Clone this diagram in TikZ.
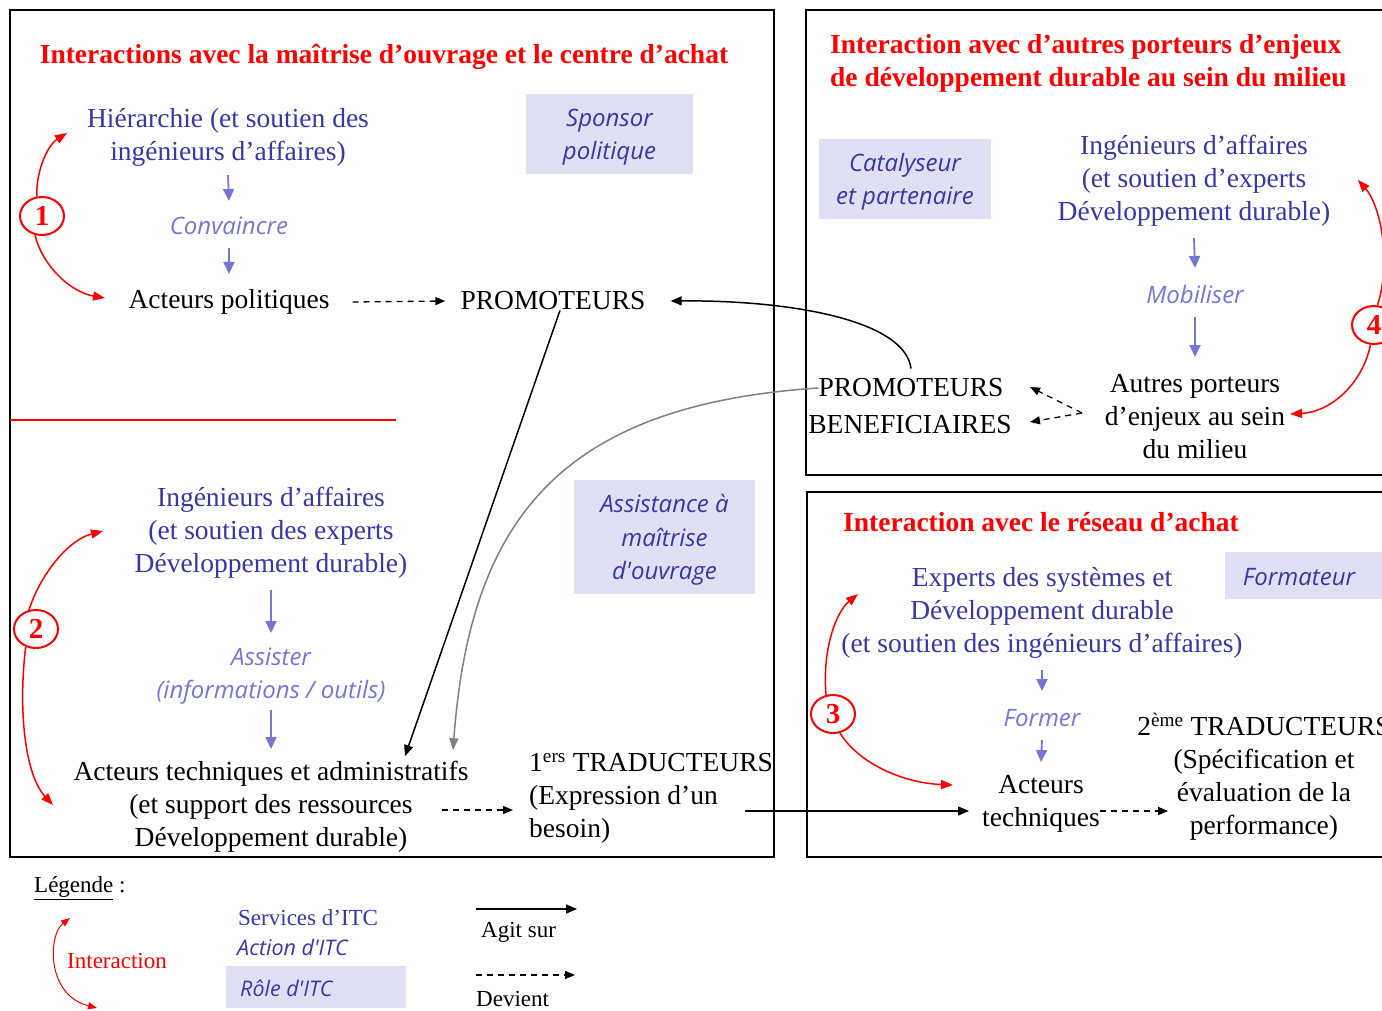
\documentclass[tikz,border=0pt]{standalone}
\usepackage{fontspec}
\setmainfont{Liberation Serif}
\newfontfamily\rolefont{Open Sans}
\usetikzlibrary{arrows.meta,shapes.geometric}
\definecolor{dblue}{RGB}{55,55,165}
\definecolor{lav}{RGB}{118,118,212}
\definecolor{rolebg}{RGB}{223,224,243}
\definecolor{ired}{RGB}{255,0,0}
\definecolor{garrow}{RGB}{128,128,128}
\begin{document}
\begin{tikzpicture}[x=1pt,y=-1pt,
  txt/.style={font=\fontsize{27.5}{33}\selectfont, align=center, inner sep=0pt, text=black},
  svc/.style={txt, text=dblue},
  act/.style={font=\rolefont\itshape\fontsize{24}{33}\selectfont, align=center, inner sep=0pt, text=lav},
  rolebox/.style={fill=rolebg, inner sep=0pt},
  role/.style={font=\rolefont\itshape\fontsize{24}{33.5}\selectfont, align=center, inner sep=0pt, text=dblue},
  ttl/.style={font=\bfseries\fontsize{27.5}{33}\selectfont, text=ired, inner sep=0pt, align=left},
  inum/.style={ellipse, draw=ired, line width=2pt, minimum width=44pt, minimum height=38pt, inner sep=0pt, font=\bfseries\fontsize{29}{29}\selectfont, text=ired},
  boxline/.style={draw=black, line width=2pt},
  blk/.style={line width=1.5pt, -{Triangle[length=11pt,width=9pt]}},
  dasharr/.style={line width=1.3pt, dash pattern=on 6pt off 5pt, -{Triangle[length=10pt,width=8pt]}},
  lavarr/.style={draw=lav, line width=1.8pt, -{Triangle[length=12pt,width=11pt]}},
  redarr/.style={draw=ired, line width=1.5pt, -{Triangle[length=12pt,width=9pt]}},
  grayarr/.style={draw=garrow, line width=1.5pt, -{Triangle[length=12pt,width=9pt]}},
  lgtxt/.style={font=\fontsize{23}{28}\selectfont, inner sep=0pt, anchor=west}
]
\clip (0,0) rectangle (1382,1011);
\fill[white] (0,0) rectangle (1382,1011);

% ---------- boxes ----------
\draw[boxline] (10,10) rectangle (774,857);
\draw[ired, line width=1.5pt] (10,420) -- (396,420);
\draw[boxline] (806,10) rectangle (1400,475);
\draw[boxline] (807,492) rectangle (1400,857);

% ---------- role boxes ----------
\node[rolebox, minimum width=167pt, minimum height=80pt] (spbg) at (609.5,134) {};
\node[role] (sp) at (609.5,137) {Sponsor\\politique};
\node[rolebox, minimum width=172pt, minimum height=80pt] (catbg) at (905,179) {};
\node[role] (cat) at (905,182) {Catalyseur\\et partenaire};
\node[rolebox, minimum width=181pt, minimum height=114pt] (amobg) at (664.5,537) {};
\node[role] (amo) at (664.5,540) {Assistance à\\maîtrise\\d'ouvrage};
\node[rolebox, minimum width=170pt, minimum height=47pt] (formbg) at (1310,575.5) {};
\node[role] (form) at (1299,577) {Formateur};

% ---------- box 1 ----------
\node[ttl] (t1) at (384,57) {Interactions avec la maîtrise d'ouvrage et le centre d'achat};
\node[svc] (hier) at (228,137) {Hiérarchie (et soutien des\\ingénieurs d'affaires)};
\node[act] (conv) at (229,226) {Convaincre};
\node[txt] (apol) at (229,302) {Acteurs politiques};
\node[txt] (prom) at (553,301) {PROMOTEURS};
\draw[lavarr] (hier |- 0,175) -- (conv |- 0,201);
\draw[lavarr] (conv |- 0,248) -- (apol |- 0,274);
\draw[dasharr] (apol.east) ++(23,0) coordinate (ap1) (ap1) -- ([xshift=-15pt]prom.west);

\node[svc] (ing1) at (271,533) {Ingénieurs d'affaires\\(et soutien des experts\\Développement durable)};
\node[act] (assist) at (271,676) {Assister\\(informations / outils)};
\node[txt] (atech) at (271,807) {Acteurs techniques et administratifs\\(et support des ressources\\Développement durable)};
\node[txt, align=left, anchor=west] (trad1) at (529,798) {1\textsuperscript{ers} TRADUCTEURS\\(Expression d'un\\besoin)};
\draw[lavarr] (ing1 |- 0,590) -- (assist |- 0,633);
\draw[lavarr] (assist |- 0,710) -- (atech |- 0,749);
\draw[dasharr] (atech.east |- 0,810) ++(-27,0) coordinate (at1) (at1) -- ([xshift=-16pt]trad1.west |- 0,810);

% interaction 1
\node[inum] (n1) at (42,216) {1};
\coordinate (n1a) at (67,133);
\coordinate (n1b) at (105,298);
\draw[redarr] (n1.105) .. controls (36,170) and (48,145) .. (n1a);
\draw[redarr] (n1.250) .. controls (42,265) and (70,292) .. (n1b);
% interaction 2
\node[inum] (n2) at (36,629) {2};
\coordinate (n2a) at (103,531);
\coordinate (n2b) at (53,805);
\draw[redarr] (n2.110) .. controls (40,575) and (68,540) .. (n2a);
\draw[redarr] (n2.240) .. controls (18,710) and (25,775) .. (n2b);

% ---------- box 2 ----------
\node[ttl, anchor=west] (t2) at (830,63) {Interaction avec d'autres porteurs d'enjeux\\de développement durable au sein du milieu};
\node[svc] (ing2) at (1194,181) {Ingénieurs d'affaires\\(et soutien d'experts\\Développement durable)};
\node[act] (mob) at (1195,294) {Mobiliser};
\node[txt] (autres) at (1195,417) {Autres porteurs\\d'enjeux au sein\\du milieu};
\draw[lavarr] (ing2 |- 0,238) -- (mob |- 0,268);
\draw[lavarr] (mob |- 0,317) -- (autres |- 0,357);
\node[txt] (pb1) at (911,388) {PROMOTEURS};
\node[txt] (pb2) at (910,425) {BENEFICIAIRES};
\coordinate (dd) at (1082,413);
\draw[dasharr] (dd) -- (1030,387) coordinate (dd1);
\draw[dasharr] (dd) -- (1030,422) coordinate (dd2);
% interaction 4
\node[inum] (n4) at (1374,325) {4};
\coordinate (n4a) at (1358,180);
\coordinate (n4b) at (1290,414);
\draw[redarr] (n4.80) .. controls (1392,260) and (1380,205) .. (n4a);
\draw[redarr] (n4.260) .. controls (1362,385) and (1330,412) .. (n4b);

% ---------- box 3 ----------
\node[ttl, anchor=west] (t3) at (843,522) {Interaction avec le réseau d'achat};
\node[svc] (exp) at (1042,613) {Experts des systèmes et\\Développement durable\\(et soutien des ingénieurs d'affaires)};
\node[act] (former) at (1042,718) {Former};
\node[txt] (atech2) at (1041,804) {Acteurs\\techniques};
\node[txt] (trad2) at (1264,777) {2\textsuperscript{ème} TRADUCTEURS\\(Spécification et\\évaluation de la\\performance)};
\draw[lavarr] (exp |- 0,670) -- (former |- 0,691);
\draw[lavarr] (former |- 0,740) -- (atech2 |- 0,762);
\draw[dasharr] (atech2.east |- 0,811) -- ([xshift=31pt]trad2.west |- 0,811);
% interaction 3
\node[inum] (n3) at (833,714) {3};
\coordinate (n3a) at (858,594);
\coordinate (n3b) at (953,785);
\draw[redarr] (n3.110) .. controls (822,650) and (836,612) .. (n3a);
\draw[redarr] (n3.290) .. controls (860,765) and (905,783) .. (n3b);

% ---------- cross connectors ----------
\draw[blk] ([xshift=7pt]prom.south) -- ([xshift=134pt,yshift=5pt]atech.north);
\draw[blk] ([xshift=-28pt]trad1.east |- 0,811) -- ([xshift=-13pt]atech2.west |- 0,811);
\draw[blk] ([yshift=10pt]pb1.north) .. controls (905,320) and (790,300) .. ([xshift=25pt]prom.east);
\draw[grayarr] (pb1.west) .. controls (560,405) and (470,520) .. ([xshift=182pt,yshift=11pt]atech.north);

% ---------- legend ----------
\node[lgtxt] (leg) at (34,888) {\underline{Légende} :};
\coordinate (lgA) at (70,918);
\coordinate (lgB) at (97,1008);
\draw[draw=ired, line width=1pt, {Triangle[length=9pt,width=7pt]}-{Triangle[length=9pt,width=7pt]}] (lgA) .. controls (48,935) and (46,995) .. (lgB);
\node[lgtxt, text=ired] (lgi) at (67,961) {Interaction};
\node[lgtxt, text=dblue] (lgs) at (238,918) {Services d'ITC};
\node[lgtxt, text=dblue, font=\rolefont\itshape\fontsize{21.5}{28}\selectfont] (lga) at (237,947) {Action d'ITC};
\node[fill=rolebg, minimum width=180pt, minimum height=42pt, inner sep=0pt] (lgr) at (316,987) {};
\node[lgtxt, text=dblue, font=\rolefont\itshape\fontsize{21.5}{28}\selectfont] (lgrt) at (240,988) {Rôle d'ITC};
\coordinate (ag1) at (476,909);
\coordinate (ag2) at (577,909);
\draw[line width=1.5pt, -{Triangle[length=11pt,width=9pt]}] (ag1) -- (ag2);
\node[lgtxt] (agt) at (481,932) {Agit sur};
\coordinate (dv1) at (476,975);
\coordinate (dv2) at (575,975);
\draw[dasharr] (dv1) -- (dv2);
\node[lgtxt] (dvt) at (476,999) {Devient};
\end{tikzpicture}
\end{document}
